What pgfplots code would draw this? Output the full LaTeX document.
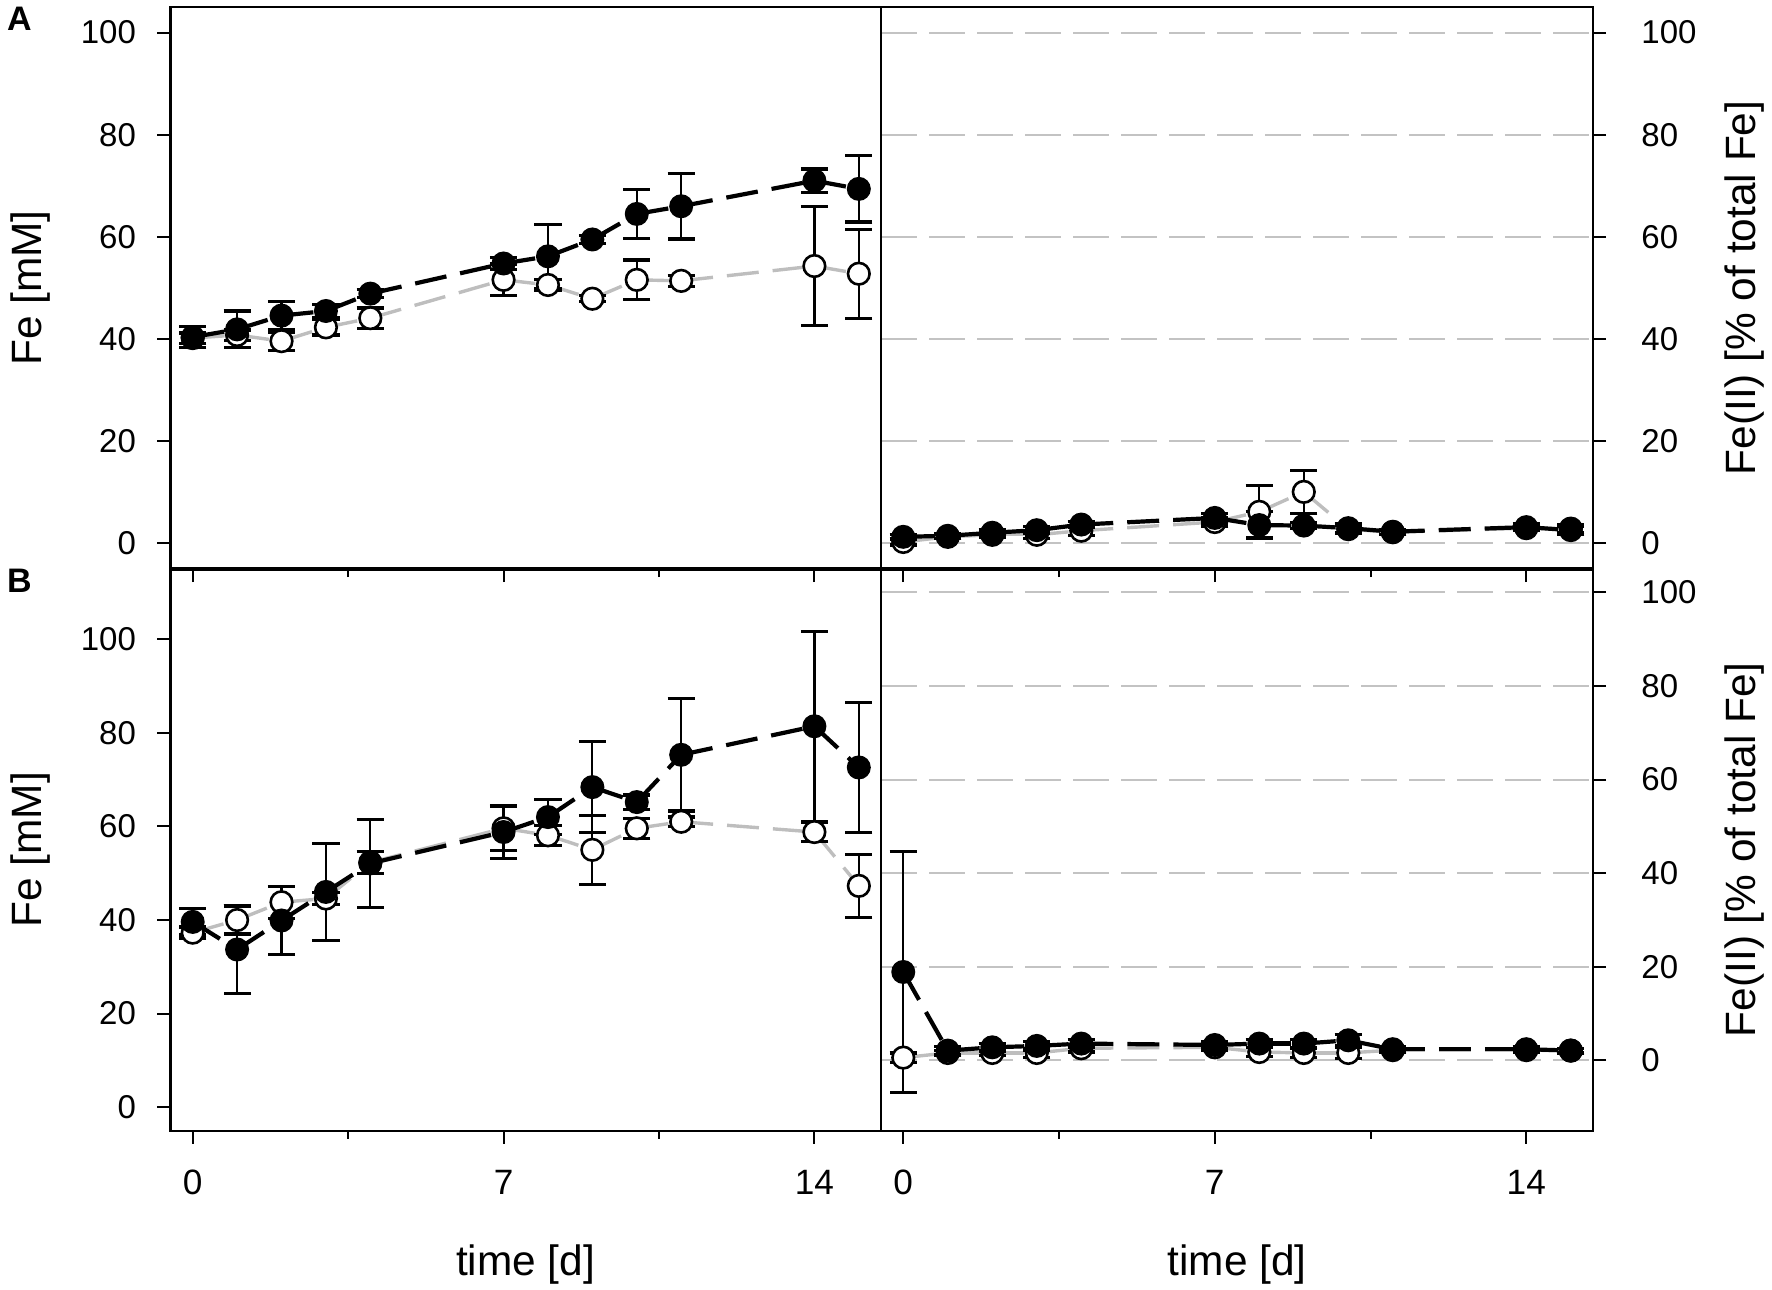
\documentclass[border=0pt]{standalone}
\usepackage{fontspec}
\setmainfont{Liberation Sans}
\usepackage{pgfplots}
\usepackage{pgfplotstable}
\pgfplotsset{compat=1.18}
\usetikzlibrary{decorations.pathreplacing}
\definecolor{lgray}{RGB}{190,190,190}
\definecolor{ggrid}{RGB}{195,195,195}

% ---------------- data ----------------
\pgfplotstableread{
x y e
0 40.2 1.0
1 40.8 1.0
2 39.6 1.8
3 42.3 1.5
4 44.1 2.0
7 51.6 3.1
8 50.6 1.0
9 47.9 0.6
10 51.6 3.9
11 51.4 1.1
14 54.3 11.7
15 52.8 8.7
}\tALopen
\pgfplotstableread{
x y e
0 40.4 2.0
1 41.9 3.6
2 44.6 2.7
3 45.5 1.3
4 48.9 0.8
7 54.8 1.1
8 56.2 6.3
9 59.5 0.8
10 64.5 4.8
11 66.0 6.4
14 71.0 2.3
15 69.4 6.5
}\tALfill
\pgfplotstableread{
x y e
0 0.3 0.6
1 1.3 0.4
2 1.7 0.5
3 1.7 0.8
4 2.5 1.0
7 4.2 0.8
8 6.2 5.1
9 10.1 4.2
10 2.8 0.8
11 2.2 0.4
14 3.0 0.5
15 2.9 0.8
}\tARopen
\pgfplotstableread{
x y e
0 1.3 0.5
1 1.5 0.5
2 2.1 0.6
3 2.6 0.7
4 3.7 0.6
7 5.0 0.8
8 3.6 2.6
9 3.5 0.6
10 3.0 0.9
11 2.3 0.5
14 3.2 0.7
15 2.6 0.8
}\tARfill
\pgfplotstableread{
x y e
0 37.3 1.2
1 40.0 3.0
2 43.8 3.4
3 44.6 1.2
4 52.3 2.3
7 59.6 4.7
8 58.1 2.1
9 55.0 7.4
10 59.6 2.1
11 61.0 1.0
14 58.8 2.0
15 47.3 6.7
}\tBLopen
\pgfplotstableread{
x y e
0 39.6 2.8
1 33.7 9.4
2 39.9 7.2
3 46.0 10.4
4 52.1 9.4
7 58.8 5.6
8 62.0 3.7
9 68.4 9.7
10 65.2 1.5
11 75.3 12.0
14 81.4 20.3
15 72.6 13.9
}\tBLfill
\pgfplotstableread{
x y e
0 0.6 1.0
1 1.6 0.6
2 1.6 0.6
3 1.6 1.0
4 2.6 0.8
7 2.8 0.6
8 1.8 1.0
9 1.6 1.0
10 1.6 1.2
11 2.2 0.4
14 2.2 0.4
15 2.1 0.4
}\tBRopen
\pgfplotstableread{
x y e
0 18.9 25.8
1 2.1 0.8
2 2.8 0.8
3 3.1 1.0
4 3.6 0.8
7 3.3 0.7
8 3.6 0.8
9 3.6 0.8
10 4.3 1.2
11 2.4 0.5
14 2.4 0.5
15 2.1 0.5
}\tBRfill

\tikzset{seglines/.style={draw=none, postaction={decorate, decoration={show path construction,
  lineto code={\draw[#1] (\tikzinputsegmentfirst) -- (\tikzinputsegmentlast);}}}}}

\pgfplotsset{
  panel/.style={
    scale only axis,
    axis line style={line width=0.55pt},
    xmin=-0.5, xmax=15.5,
    xtick={0,7,14}, minor xtick={3.5,10.5},
    xtick pos=left,
    tick align=outside,
    major tick length=3.3pt, minor tick length=2pt,
    tick style={black, line width=0.5pt},
    ytick={0,20,40,60,80,100},
    /pgf/number format/assume math mode=true,
    yticklabel style={font=\fontsize{8.25}{9}\selectfont, inner sep=0pt},
    xticklabel style={font=\fontsize{8.8}{10}\selectfont, inner sep=0pt, anchor=north},
    xticklabel shift=6.4pt,
  },
  leftpanel/.style={panel, width=177.625pt, ytick pos=left, yticklabel shift=5.15pt},
  rightpanel/.style={panel, width=178pt, ytick pos=right, yticklabel pos=right, yticklabel shift=8.6pt,
    yticklabel style={anchor=west},
    ymajorgrids, major grid style={ggrid, line width=0.5pt, dash pattern=on 9pt off 3pt}},
  errb/.style={error bars/.cd, y dir=both, y explicit,
    error bar style={line width=0.55pt, black, solid},
    error mark options={rotate=90, mark size=3.4pt, line width=0.8pt, black, solid}},
  fillLine/.style={mark=none, seglines={black, line width=1.05pt, dash pattern=on 8pt off 3.5pt}},
  openLine/.style={mark=none, seglines={lgray, line width=0.85pt, dash pattern=on 8pt off 3.5pt}},
  fillMarks/.style={only marks, mark=*, mark size=2.75pt,
    mark options={solid, fill=black, draw=black, line width=0.5pt}, errb},
  openMarks/.style={only marks, mark=*, mark size=2.7pt,
    mark options={solid, fill=white, draw=black, line width=0.65pt}, errb},
}

\newcommand{\fourplots}[2]{%
  \addplot[openLine] table[x=x, y=y] {#1};
  \addplot[openMarks] table[x=x, y=y, y error=e] {#1};
  \addplot[fillLine] table[x=x, y=y] {#2};
  \addplot[fillMarks] table[x=x, y=y, y error=e] {#2};
}

\begin{document}
\begin{tikzpicture}
\useasboundingbox (0,0) rectangle (443pt,322.25pt);

% ---------- Panel A left ----------
\begin{axis}[leftpanel, at={(42.625pt,180pt)}, anchor=south west, height=140.5pt,
  ymin=-5, ymax=105, xticklabels={}]
\fourplots{\tALopen}{\tALfill}
\end{axis}

% ---------- Panel A right ----------
\begin{axis}[rightpanel, at={(220.25pt,180pt)}, anchor=south west, height=140.5pt,
  ymin=-5, ymax=105, xticklabels={}]
\fourplots{\tARopen}{\tARfill}
\end{axis}

% ---------- Panel B left ----------
\begin{axis}[leftpanel, at={(42.625pt,39.6pt)}, anchor=south west, height=140.4pt,
  ymin=-5, ymax=115]
\fourplots{\tBLopen}{\tBLfill}
\end{axis}

% ---------- Panel B right ----------
\begin{axis}[rightpanel, at={(220.25pt,39.6pt)}, anchor=south west, height=140.4pt,
  ymin=-15, ymax=105]
\fourplots{\tBRopen}{\tBRfill}
\end{axis}

\draw[line width=0.9pt] (42.625pt,180pt) -- (398.25pt,180pt);

% panel letters
\node[anchor=base west, inner sep=0pt, font=\bfseries\fontsize{8.5}{10}\selectfont] at (1.6pt,314.75pt) {A};
\node[anchor=base west, inner sep=0pt, font=\bfseries\fontsize{8.5}{10}\selectfont] at (1.6pt,174.25pt) {B};

% axis labels
\node[rotate=90, anchor=base, inner sep=0pt, font=\fontsize{10.6}{12}\selectfont] at (10.25pt,250.25pt) {Fe [mM]};
\node[rotate=90, anchor=base, inner sep=0pt, font=\fontsize{10.6}{12}\selectfont] at (10.25pt,109.8pt) {Fe [mM]};
\node[rotate=90, anchor=base, inner sep=0pt, font=\fontsize{10.6}{12}\selectfont] at (438.75pt,250.25pt) {Fe(II) [\% of total Fe]};
\node[rotate=90, anchor=base, inner sep=0pt, font=\fontsize{10.6}{12}\selectfont] at (438.75pt,109.8pt) {Fe(II) [\% of total Fe]};
\node[anchor=base, inner sep=0pt, font=\fontsize{10.6}{12}\selectfont] at (131.4pt,3.5pt) {time [d]};
\node[anchor=base, inner sep=0pt, font=\fontsize{10.6}{12}\selectfont] at (309.25pt,3.5pt) {time [d]};
\end{tikzpicture}
\end{document}
